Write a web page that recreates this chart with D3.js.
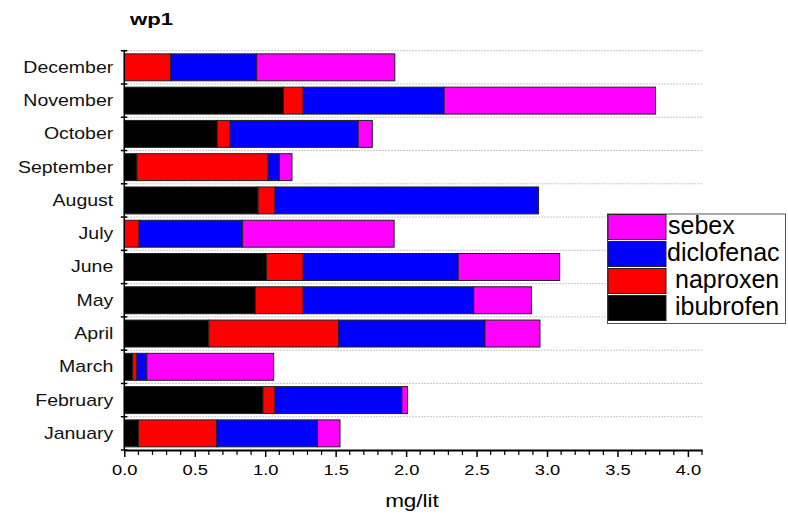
<!DOCTYPE html>
<html><head><meta charset="utf-8">
<script src="https://cdn.jsdelivr.net/npm/d3@7"></script>
<style>body{margin:0;background:#fff}svg{display:block}text{font-family:"Liberation Sans",Arial,sans-serif}</style>
</head><body>
<script>
const months = ["January","February","March","April","May","June","July","August","September","October","November","December"];
const ibuprofen  = [0.10, 0.985, 0.06, 0.60, 0.93, 1.01, 0.00, 0.95, 0.09, 0.66, 1.13, 0.00];
const naproxen   = [0.556, 0.085, 0.03, 0.92, 0.34, 0.26, 0.105, 0.12, 0.93, 0.09, 0.14, 0.33];
const diclofenac = [0.715, 0.90, 0.07, 1.04, 1.21, 1.10, 0.735, 1.87, 0.08, 0.91, 1.00, 0.61];
const sebex      = [0.16, 0.04, 0.90, 0.39, 0.41, 0.72, 1.075, 0.00, 0.09, 0.10, 1.50, 0.98];
const seriesNames = ["ibuprofen","naproxen","diclofenac","sebex"];
const legendLabels = ["ibubrofen","naproxen","diclofenac","sebex"];
const seriesColors = ["#000000","#ff0000","#0000ff","#ff00ff"];
const xTicks = [0,0.5,1,1.5,2,2.5,3,3.5,4];
const chartTitle = "wp1";
const xTitle = "mg/lit";

const W = 788, H = 514;
const svg = d3.select("body").append("svg").attr("width", W).attr("height", H);

const table = months.map((m,i)=>({month:m, ibuprofen:ibuprofen[i], naproxen:naproxen[i], diclofenac:diclofenac[i], sebex:sebex[i]}));
const stacked = d3.stack().keys(seriesNames)(table);

const mLeft = 124.3, mRight = 702, mTop = 50.7, mBottom = 450;
const x = d3.scaleLinear().domain([0,4.1]).range([mLeft,mRight]);
const y = d3.scaleBand().domain(months.slice().reverse()).range([mTop,mBottom]).paddingInner(0.19).paddingOuter(0.095);
const step = y.step();

// gridlines at band boundaries
const bounds = d3.range(0,12).map(i=>mTop + i*step);
svg.append("g").selectAll("line").data(bounds).join("line")
  .attr("x1", mLeft).attr("x2", mRight).attr("y1", d=>d).attr("y2", d=>d)
  .attr("stroke","#b5b5b5").attr("stroke-width",1).attr("stroke-dasharray","1.5,1.5");

// bars
svg.append("g").selectAll("g").data(stacked).join("g")
  .attr("fill",(d,i)=>seriesColors[i])
  .selectAll("rect").data(d=>d).join("rect")
  .attr("x", d=>x(d[0])).attr("width", d=>Math.max(0, x(d[1])-x(d[0])))
  .attr("y", d=>y(d.data.month)).attr("height", y.bandwidth())
  .attr("stroke", d=>(d[1]-d[0])>0 ? "#222" : "none").attr("stroke-width",1);

// x axis
const sx = 1.22;
const xAxis = svg.append("g").attr("transform",`translate(0,${mBottom})`)
  .call(d3.axisBottom(x).tickValues(xTicks).tickFormat(d3.format(".1f")).tickSize(7).tickSizeOuter(0));
xAxis.select(".domain").attr("stroke-width",2);
xAxis.selectAll(".tick line").attr("stroke-width",1.5);
xAxis.selectAll(".tick text").attr("font-size",15).attr("y",14).attr("dy","0.71em").attr("fill","#000")
  .attr("transform",`scale(${sx},1)`);
// minor ticks
svg.append("g").selectAll("line").data(d3.range(0,42).map(i=>i/10).filter(v=>Math.abs(v*2-Math.round(v*2))>1e-6))
  .join("line").attr("x1",d=>x(d)).attr("x2",d=>x(d)).attr("y1",mBottom).attr("y2",mBottom+5)
  .attr("stroke","#000").attr("stroke-width",1.2);

// y axis
svg.append("line").attr("x1",mLeft).attr("x2",mLeft).attr("y1",mTop).attr("y2",mBottom)
  .attr("stroke","#000").attr("stroke-width",1.5);
svg.append("g").selectAll("line").data(d3.range(0,13).map(i=>mTop+i*step)).join("line")
  .attr("x1",mLeft-3.5).attr("x2",mLeft+3).attr("y1",d=>d).attr("y2",d=>d)
  .attr("stroke","#000").attr("stroke-width",1.5);
svg.append("g").selectAll("text").data(months).join("text")
  .attr("transform", d=>`translate(${mLeft-11},${y(d)+y.bandwidth()/2+5.5}) scale(${sx},1)`)
  .attr("text-anchor","end").attr("font-size",16).attr("fill","#111").text(d=>d);

// title
svg.append("text").attr("transform","translate(130,25) scale(1.3,1)")
  .attr("font-size",17).attr("font-weight","bold").text(chartTitle);
// x title
svg.append("text").attr("transform","translate(412,507) scale(1.25,1)")
  .attr("text-anchor","middle").attr("font-size",18).text(xTitle);

// legend
const lg = svg.append("g");
lg.append("rect").attr("x",607.5).attr("y",214).attr("width",178).attr("height",109.5)
  .attr("fill","#fff").attr("stroke","#555").attr("stroke-width",1);
const order = [3,2,1,0];
const textX = [668,667,675,675];
order.forEach((si,r)=>{
  const ry = 214.5 + r*27;
  lg.append("rect").attr("x",608).attr("y",ry).attr("width",58).attr("height",25)
    .attr("fill",seriesColors[si]).attr("stroke","#222").attr("stroke-width",1);
  lg.append("text").attr("x",textX[r]).attr("y",ry+19.5).attr("font-size",25).attr("fill","#000")
    .text(legendLabels[si]);
});
</script>
</body></html>
